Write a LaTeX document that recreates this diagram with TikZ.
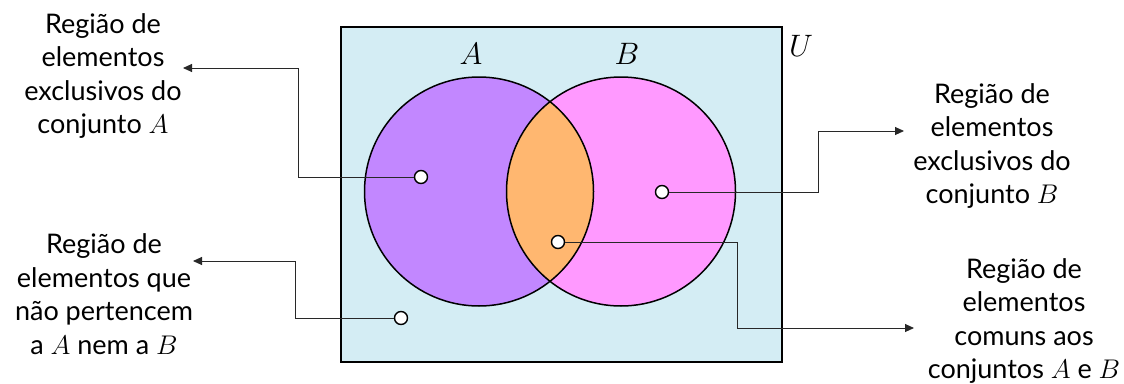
\RequirePackage{fix-cm}
\documentclass[tikz,border=0pt]{standalone}
\usepackage{fontspec}
\setmainfont{Lato}
\usetikzlibrary{arrows.meta}
\definecolor{ubg}{RGB}{212,237,244}
\definecolor{ca}{RGB}{194,135,255}
\definecolor{cb}{RGB}{255,153,255}
\definecolor{cab}{RGB}{255,183,112}
\definecolor{conncol}{RGB}{40,40,40}
\tikzset{
  lbl/.style={align=center, font=\fontsize{27}{33.5}\selectfont, inner sep=0pt},
  setlbl/.style={font=\fontsize{31}{31}\selectfont, inner sep=0pt},
  pt/.style={circle, draw=black, fill=white, line width=1.4pt, minimum size=13pt, inner sep=0pt},
  conn/.style={draw=conncol, line width=0.9pt},
  arr/.style={conn, -{Triangle[length=9pt,width=8pt]}},
}
\begin{document}
\begin{tikzpicture}[x=1pt,y=-1pt]
\useasboundingbox (0,0) rectangle (1124,383);
% universe
\node[draw=black, line width=2pt, fill=ubg, minimum width=441pt, minimum height=335pt, inner sep=0pt] (U) at (561.5,194.5) {};
\node[setlbl] (Ulab) at (801,46) {$U$};
% circles
\fill[ca] (479,191.5) circle (114.5);
\fill[cb] (621,191.5) circle (114.5);
\begin{scope}
  \clip (479,191.5) circle (114.5);
  \fill[cab] (621,191.5) circle (114.5);
\end{scope}
\draw[line width=1.5pt] (479,191.5) circle (114.5);
\draw[line width=1.5pt] (621,191.5) circle (114.5);
\node[setlbl] (Alab) at (471,54) {$A$};
\node[setlbl] (Blab) at (627,54) {$B$};
% texts
\node[lbl] (tA) at (103,76) {Região de\\elementos\\exclusivos do\\conjunto $A$};
\node[lbl] (tN) at (104,294) {Região de\\elementos que\\não pertencem\\a $A$ nem a $B$};
\node[lbl] (tB) at (992,146) {Região de\\elementos\\exclusivos do\\conjunto $B$};
\node[lbl] (tAB) at (1024,321) {Região de\\elementos\\comuns aos\\conjuntos $A$ e $B$};
% arrow targets
\coordinate (eA) at (183,68);
\coordinate (eN) at (193,261);
\coordinate (eB) at (904,131);
\coordinate (eAB) at (914,328);
% points
\node[pt] (dA) at (421,177) {};
\node[pt] (dB) at (662,192) {};
\node[pt] (dAB) at (558,242) {};
\node[pt] (dN) at (401,318) {};
% connectors
\draw[arr] (dA.west) -- (298,177) |- (eA);
\draw[arr] (dN.west) -- (295,318) |- (eN);
\draw[arr] (dB.east) -- (818,192) |- (eB);
\draw[arr] (dAB.east) -- (737,242) |- (eAB);
\end{tikzpicture}
\end{document}
